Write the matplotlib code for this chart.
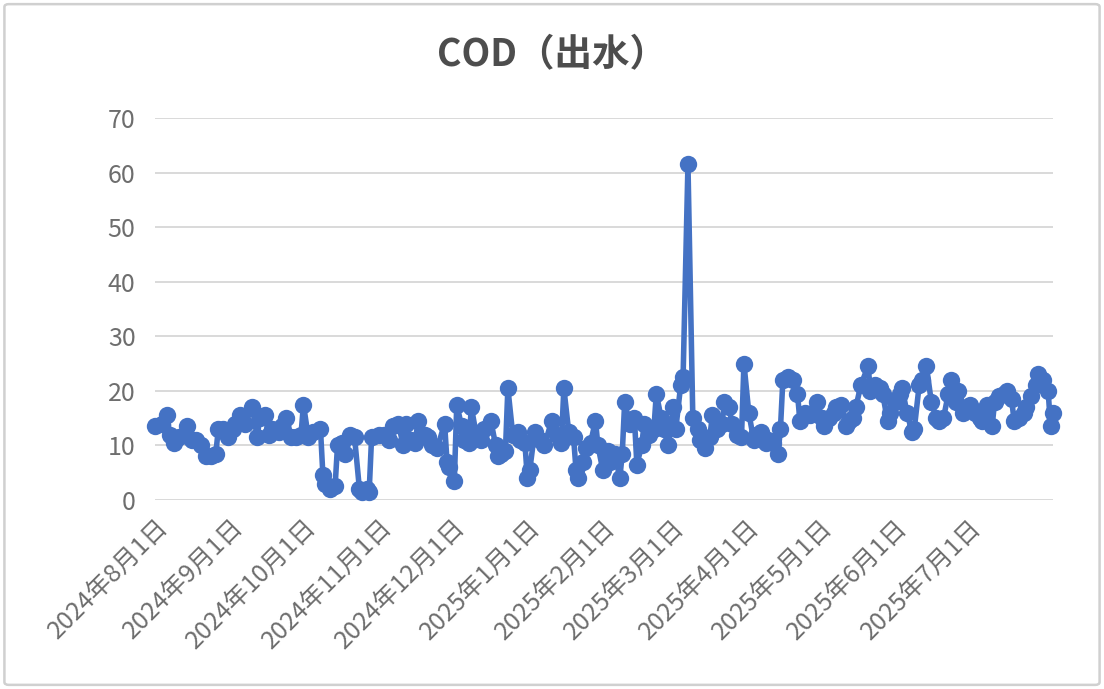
import numpy as np
import matplotlib
matplotlib.use("Agg")
import matplotlib.pyplot as plt
from matplotlib.patches import FancyBboxPatch
import datetime as dt

plt.rcParams['font.family'] = ['Noto Sans CJK SC', 'DejaVu Sans']

# days since 2024-08-01 and COD readings
start = dt.date(2024, 8, 1)
day_offsets = [0, 3, 5, 6, 8, 10, 13, 15, 17, 19, 21, 23, 25, 26, 28, 30, 32, 33, 35, 37,
               40, 42, 43, 45, 47, 48, 51, 52, 54, 56, 58, 60, 61, 63, 65, 68, 69, 70, 72, 74,
               75, 77, 78, 80, 82, 84, 85, 87, 88, 89, 92, 94, 96, 98, 100, 102, 103, 105, 107, 108,
               111, 112, 114, 116, 119, 120, 121, 123, 124, 126, 127, 129, 130, 132, 134, 135, 138, 140, 141, 142,
               144, 145, 147, 149, 150, 152, 153, 154, 156, 158, 160, 163, 165, 167, 168, 170, 172, 173, 174, 176,
               177, 179, 181, 182, 184, 186, 187, 189, 191, 192, 193, 195, 197, 198, 200, 201, 203, 205, 206, 208,
               209, 211, 213, 214, 216, 217, 219, 221, 223, 224, 226, 228, 229, 231, 233, 234, 236, 237, 239, 241,
               242, 244, 246, 247, 249, 251, 252, 254, 256, 257, 258, 260, 262, 264, 265, 267, 269, 270, 272, 274,
               275, 277, 279, 280, 282, 284, 285, 287, 288, 290, 293, 294, 296, 298, 299, 301, 302, 304, 306, 307,
               309, 311, 312, 314, 315, 317, 319, 321, 322, 324, 326, 327, 329, 330, 332, 334, 335, 337, 339, 340,
               342, 344, 345, 347, 349, 350, 352, 353, 355, 357, 358, 360, 362, 363, 365, 367, 368, 369]
cod = [13.5, 14, 15.5, 12, 10.5, 11.5, 13.5, 11, 11, 10, 8, 8, 8.5, 13, 13, 11.5, 13, 14, 15.5, 14,
       17, 11.5, 15, 15.5, 12, 13, 12.5, 13.5, 15, 11.5, 11.5, 12, 17.5, 11.5, 12.5, 13, 4.5, 3, 2, 2.5,
       10, 10.5, 8.5, 12, 11.5, 2, 1.5, 2, 1.5, 11.5, 12, 12, 11, 13.5, 14, 10, 14, 11, 10.5, 14.5,
       12, 11.5, 10, 9.5, 14, 7, 6, 3.5, 17.5, 13.5, 11, 10.5, 17, 12, 11, 13, 14.5, 10, 8, 8.5,
       9, 20.5, 12, 12.5, 11, 10.5, 4, 5.5, 12.5, 11, 10, 14.5, 12, 10.5, 20.5, 12.5, 11.5, 5.5, 4, 7,
       9.5, 10.5, 14.5, 10, 5.5, 9, 7, 8.5, 4, 8.5, 18, 14, 15, 6.5, 10, 14, 12, 13, 19.5, 15,
       13, 10, 17, 13, 21, 22.5, 61.5, 15, 13, 11, 9.5, 11.5, 15.5, 13, 14, 18, 17, 14, 12, 11.5,
       25, 16, 11, 12, 12.5, 10.5, 11, 10.5, 8.5, 13, 22, 22.5, 22, 19.5, 14.5, 16, 15.5, 16, 18, 15,
       13.5, 15, 16, 17, 17.5, 13.5, 14.5, 15, 17, 21, 24.5, 20, 21, 20.5, 19.5, 14.5, 16, 18, 19.5, 20.5,
       16, 12.5, 13, 21, 22, 24.5, 18, 15, 14.5, 15, 19.5, 22, 18, 20, 16, 17, 17.5, 16, 15, 14.5,
       17.5, 13.5, 18, 19, 19.5, 20, 18.5, 14.5, 15, 16, 17, 19, 21, 23, 22, 20, 13.5, 16]
tick_months = [(2024, 8), (2024, 9), (2024, 10), (2024, 11), (2024, 12), (2025, 1),
               (2025, 2), (2025, 3), (2025, 4), (2025, 5), (2025, 6), (2025, 7)]

dates = [start + dt.timedelta(days=d) for d in day_offsets]
ticks = [dt.date(y, m, 1) for y, m in tick_months]
tick_labels = [f"{y}年{m}月1日" for y, m in tick_months]

fig = plt.figure(figsize=(11.04, 6.89), dpi=100)
fig.patches.append(FancyBboxPatch((0.004, 0.006), 0.992, 0.988, boxstyle="round,pad=0,rounding_size=0.004",
                                  transform=fig.transFigure, fill=False, edgecolor='#D0D0D0', linewidth=1.8))
ax = fig.add_axes([0.1404, 0.2743, 0.8134, 0.5544])

ax.plot(dates, cod, color='#4472C4', linewidth=4, marker='o', markersize=12.5,
        markeredgewidth=0, clip_on=False, zorder=3)

ax.set_ylim(0, 70)
ax.set_yticks(range(0, 71, 10))
ax.set_xlim(dates[0], dates[-1])
ax.set_xticks(ticks)
ax.set_xticklabels(tick_labels, rotation=45, ha='right', va='top', rotation_mode='anchor')
ax.tick_params(axis='both', length=0, colors='#6E6E6E', labelsize=18)
for lbl in ax.get_xticklabels() + ax.get_yticklabels():
    lbl.set_fontweight('light')
ax.tick_params(axis='y', pad=14)
ax.tick_params(axis='x', pad=10)
ax.grid(axis='y', color='#D9D9D9', linewidth=1.4)
ax.set_axisbelow(True)
for s in ax.spines.values():
    s.set_visible(False)

fig.text(0.5, 0.92, "COD（出水）", ha='center', va='center', fontsize=27, fontweight='bold', color='#4D4D4D')

fig.savefig('out.png', dpi=100)
